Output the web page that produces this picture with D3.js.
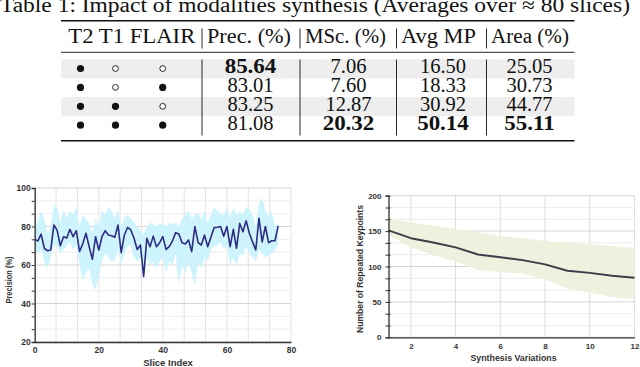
<!DOCTYPE html>
<html>
<head>
<meta charset="utf-8">
<script src="https://cdn.jsdelivr.net/npm/d3@7"></script>
<style>
  body { margin: 0; background: #fff; }
  svg { display: block; }
</style>
</head>
<body>
<svg id="fig" width="640" height="367"></svg>
<script>
// ---- table values
var caption = "Table 1: Impact of modalities synthesis (Averages over \u2248 80 slices)";
var modalityHeader = "T2 T1 FLAIR";
var metricNames = ["Prec. (%)", "MSc. (%)", "Avg MP", "Area (%)"];
var modalityUsed = [[1, 0, 0], [1, 0, 1], [1, 1, 0], [1, 1, 1]];
var precision = ["85.64", "83.01", "83.25", "81.08"];
var msc = ["7.06", "7.60", "12.87", "20.32"];
var avgMP = ["16.50", "18.33", "30.92", "50.14"];
var area = ["25.05", "30.73", "44.77", "55.11"];
var bestRow = [0, 3, 3, 3];   // row of the bold value in each metric column

// ---- left chart: precision per slice
var sliceMean = [73.3, 72.5, 76, 68.7, 67.4, 67.8, 80.8, 78, 70, 74.7,
  74, 78.5, 74.7, 77.8, 67, 71, 76.5, 69.5, 63, 74.7,
  67.8, 74.7, 77.8, 75.6, 75.2, 74.4, 80.8, 66.4, 75.6, 79.6,
  78.2, 73.9, 68.1, 70.4, 54, 73.9, 69.5, 75, 69.5, 71.6,
  74.7, 68.1, 69.5, 72.5, 76.8, 76.1, 71.6, 70.9, 73, 67,
  80, 71.6, 70.4, 75.6, 69.5, 74.4, 79.4, 79.6, 80, 75,
  80, 69.5, 78.5, 68.7, 81.6, 77.3, 83, 76.5, 72, 67.8,
  84.2, 72, 80, 71.6, 72.6, 72.6, 80.3];
var sliceHi = [78, 83, 88, 84, 76, 80, 91, 90, 82, 89,
  84, 88, 86, 90, 80, 86, 84, 82, 76, 84,
  80, 88, 86, 90, 88, 84, 89, 80, 85, 86,
  84, 82, 80, 78, 76, 80, 82, 81, 80, 82,
  81, 80, 82, 81, 82, 80, 84, 86, 88, 84,
  86, 87, 84, 88, 82, 86, 90, 88, 87, 86,
  90, 84, 90, 86, 88, 86, 90, 89, 86, 80,
  92, 95, 88, 85, 88, 80, 82];
var sliceLo = [67, 66, 68, 62, 58, 64, 70, 70, 66, 68,
  70, 72, 68, 70, 60, 52, 56, 58, 50, 47,
  54, 62, 66, 64, 62, 62, 68, 60, 66, 70,
  70, 64, 62, 64, 52, 64, 60, 62, 58, 62,
  64, 56, 62, 60, 66, 50, 60, 56, 62, 56,
  49, 62, 58, 64, 62, 68, 70, 70, 72, 68,
  70, 60, 64, 60, 66, 65, 70, 66, 64, 62,
  68, 66, 64, 65, 66, 68, 70];
var sliceTicks = [0, 20, 40, 60, 80];
var precTicks = [20, 40, 60, 80, 100];

// ---- right chart: repeated keypoints per synthesis variation
var variations = [1, 2, 3, 4, 5, 6, 7, 8, 9, 10, 11, 12];
var kpMean = [151, 140, 134, 127, 117, 113, 109, 103, 94, 91, 87, 84];
var kpHi = [168, 162, 158, 153, 148, 143, 140, 136, 134, 131, 129, 126];
var kpLo = [145, 127, 116, 107, 95, 92, 90, 82, 69, 63, 57, 54];
var variationTicks = [2, 4, 6, 8, 10, 12];
var kpTicks = [0, 50, 100, 150, 200];

var SERIF = "'Liberation Serif', 'DejaVu Serif', serif";
var SANS = "'Liberation Sans', Arial, sans-serif";

var svg = d3.select("#fig");

function serifText(g) {
  return g.append("text")
    .attr("font-family", SERIF)
    .attr("font-size", 20.5)
    .attr("fill", "#111");
}

function sansStyle(sel, size) {
  return sel.attr("font-family", SANS)
    .attr("font-weight", "bold")
    .attr("font-size", size)
    .attr("fill", "#333");
}

// ================= table =================
var tbl = svg.append("g");

serifText(tbl)
  .attr("x", 0).attr("y", 12)
  .attr("textLength", 630).attr("lengthAdjust", "spacingAndGlyphs")
  .text(caption);

var ruleX0 = 61, ruleX1 = 574.5;
var rowY = d3.scaleLinear().domain([0, 3]).range([73.3, 130]);
var rowH = 19.1;

// shaded rows
tbl.selectAll(".shade")
  .data([0, 2])
  .enter().append("rect")
  .attr("x", ruleX0).attr("width", ruleX1 - ruleX0)
  .attr("y", function (d) { return rowY(d) - 14; })
  .attr("height", rowH)
  .attr("fill", "#eeeeee");

// rules
[[20.8, 1.4], [52.3, 0.9], [140.7, 1.4]].forEach(function (r) {
  tbl.append("line")
    .attr("x1", ruleX0).attr("x2", ruleX1)
    .attr("y1", r[0]).attr("y2", r[0])
    .attr("stroke", "#111").attr("stroke-width", r[1]);
});

// header
var barX = [202, 300, 396.5, 486.5];
var headX = [207, 305, 401, 491];
var headW = [84, 81, 75, 78];

serifText(tbl)
  .attr("x", 68.3).attr("y", 43.3)
  .attr("textLength", 127).attr("lengthAdjust", "spacingAndGlyphs")
  .text(modalityHeader);

metricNames.forEach(function (name, i) {
  tbl.append("line")
    .attr("x1", barX[i]).attr("x2", barX[i])
    .attr("y1", 28.5).attr("y2", 48.5)
    .attr("stroke", "#111").attr("stroke-width", 0.9);
  serifText(tbl)
    .attr("x", headX[i]).attr("y", 43.3)
    .attr("textLength", headW[i]).attr("lengthAdjust", "spacingAndGlyphs")
    .text(name);
});

// data column separators
barX.forEach(function (x) {
  tbl.append("line")
    .attr("x1", x).attr("x2", x)
    .attr("y1", 59.5).attr("y2", 135.5)
    .attr("stroke", "#111").attr("stroke-width", 0.9);
});

// modality dots
var dotX = [80.5, 115.5, 162.7];
modalityUsed.forEach(function (row, r) {
  row.forEach(function (on, c) {
    tbl.append("circle")
      .attr("cx", dotX[c]).attr("cy", rowY(r) - 4.8)
      .attr("r", on ? 3.6 : 2.9)
      .attr("fill", on ? "#111" : "#fff")
      .attr("stroke", "#111").attr("stroke-width", on ? 0 : 0.9);
  });
});

// metric values
var colX = [250.5, 348.5, 443, 529.5];
[precision, msc, avgMP, area].forEach(function (col, c) {
  col.forEach(function (v, r) {
    var bold = bestRow[c] === r;
    var t = serifText(tbl)
      .attr("x", colX[c]).attr("y", rowY(r))
      .attr("text-anchor", "middle")
      .attr("font-weight", bold ? "bold" : "normal")
      .text(v);
    if (bold) {
      var w = t.node().getComputedTextLength();
      t.attr("textLength", w * 1.12).attr("lengthAdjust", "spacingAndGlyphs");
    }
  });
});

// ================= left chart =================
var xL = d3.scaleLinear().domain([0, 80]).range([34.7, 291]);
var yL = d3.scaleLinear().domain([20, 100]).range([342, 188]);
var gL = svg.append("g");

var minorX = d3.range(0, 80.01, 20 / 3);
var minorY = d3.range(20, 100.01, 20 / 3);

gL.selectAll(".vx").data(minorX).enter().append("line")
  .attr("x1", function (d) { return xL(d); }).attr("x2", function (d) { return xL(d); })
  .attr("y1", yL(100)).attr("y2", yL(20))
  .attr("stroke", "#e3e3e3").attr("stroke-width", 1);
gL.selectAll(".hy").data(minorY).enter().append("line")
  .attr("x1", xL(0)).attr("x2", xL(80))
  .attr("y1", function (d) { return yL(d); }).attr("y2", function (d) { return yL(d); })
  .attr("stroke", function (d, i) { return i % 3 === 0 ? "#d6d6d6" : "#ececec"; })
  .attr("stroke-width", 1);

gL.append("path")
  .datum(sliceMean)
  .attr("fill", "#cdf3fc")
  .attr("d", d3.area()
    .x(function (d, i) { return xL(i); })
    .y0(function (d, i) { return yL(sliceLo[i]); })
    .y1(function (d, i) { return yL(sliceHi[i]); }));

gL.append("path")
  .datum(sliceMean)
  .attr("fill", "none")
  .attr("stroke", "#2e2c83").attr("stroke-width", 1.6)
  .attr("stroke-linejoin", "round")
  .attr("d", d3.line()
    .x(function (d, i) { return xL(i); })
    .y(function (d) { return yL(d); }));

var yAxisL = gL.append("g")
  .attr("transform", "translate(" + xL(0) + ",0)")
  .call(d3.axisLeft(yL).tickValues(minorY).tickSize(3).tickPadding(1)
    .tickFormat(function (d) { var r = Math.round(d); return precTicks.indexOf(r) >= 0 && Math.abs(d - r) < 1e-6 ? r : ""; }));
yAxisL.select(".domain").attr("stroke", "#333").attr("stroke-width", 1.3);
yAxisL.selectAll(".tick line").attr("stroke", "#333");
sansStyle(yAxisL.selectAll("text"), 8.5);

var xAxisL = gL.append("g")
  .attr("transform", "translate(0," + yL(20) + ")")
  .call(d3.axisBottom(xL).tickValues(sliceTicks).tickSize(0).tickPadding(5));
xAxisL.select(".domain").attr("stroke", "#333").attr("stroke-width", 1.3);
sansStyle(xAxisL.selectAll("text"), 8.5);

sansStyle(gL.append("text"), 9.5)
  .attr("x", 168).attr("y", 366).attr("text-anchor", "middle")
  .text("Slice Index");

sansStyle(gL.append("text"), 9)
  .attr("transform", "translate(11.5,280) rotate(-90)")
  .attr("text-anchor", "middle")
  .attr("textLength", 47).attr("lengthAdjust", "spacingAndGlyphs")
  .text("Precision (%)");

// ================= right chart =================
var xR = d3.scaleLinear().domain([1, 12]).range([388.5, 634.5]);
var yR = d3.scaleLinear().domain([0, 200]).range([337.3, 195.7]);
var gR = svg.append("g");

var minorKp = d3.range(0, 200.01, 50 / 3);

gR.selectAll(".vx").data(variationTicks).enter().append("line")
  .attr("x1", function (d) { return xR(d); }).attr("x2", function (d) { return xR(d); })
  .attr("y1", yR(200)).attr("y2", yR(0))
  .attr("stroke", "#dedede").attr("stroke-width", 1);
gR.selectAll(".hy").data(minorKp).enter().append("line")
  .attr("x1", xR(1)).attr("x2", xR(12))
  .attr("y1", function (d) { return yR(d); }).attr("y2", function (d) { return yR(d); })
  .attr("stroke", function (d, i) { return i % 3 === 0 ? "#d6d6d6" : "#ececec"; })
  .attr("stroke-width", 1);

gR.append("path")
  .datum(kpMean)
  .attr("fill", "#eff1de")
  .attr("d", d3.area()
    .x(function (d, i) { return xR(variations[i]); })
    .y0(function (d, i) { return yR(kpLo[i]); })
    .y1(function (d, i) { return yR(kpHi[i]); }));

gR.append("path")
  .datum(kpMean)
  .attr("fill", "none")
  .attr("stroke", "#3a3e48").attr("stroke-width", 2)
  .attr("stroke-linejoin", "round")
  .attr("d", d3.line()
    .x(function (d, i) { return xR(variations[i]); })
    .y(function (d) { return yR(d); }));

var yAxisR = gR.append("g")
  .attr("transform", "translate(" + xR(1) + ",0)")
  .call(d3.axisLeft(yR).tickValues(minorKp).tickSize(3).tickPadding(4)
    .tickFormat(function (d) { var r = Math.round(d); return kpTicks.indexOf(r) >= 0 && Math.abs(d - r) < 1e-6 ? r : ""; }));
yAxisR.select(".domain").attr("stroke", "#333").attr("stroke-width", 1.3);
yAxisR.selectAll(".tick line").attr("stroke", "#333").attr("x2", 2).attr("x1", -3);
sansStyle(yAxisR.selectAll("text"), 8);

var xAxisR = gR.append("g")
  .attr("transform", "translate(0," + yR(0) + ")")
  .call(d3.axisBottom(xR).tickValues(variationTicks).tickSize(0).tickPadding(6));
xAxisR.select(".domain").attr("stroke", "#333").attr("stroke-width", 1.3);
sansStyle(xAxisR.selectAll("text"), 8);

sansStyle(gR.append("text"), 8.8)
  .attr("x", 513.5).attr("y", 361).attr("text-anchor", "middle")
  .text("Synthesis Variations");

sansStyle(gR.append("text"), 8.6)
  .attr("transform", "translate(363,269) rotate(-90)")
  .attr("text-anchor", "middle")
  .text("Number of Repeated Keypoints");
</script>
</body>
</html>
